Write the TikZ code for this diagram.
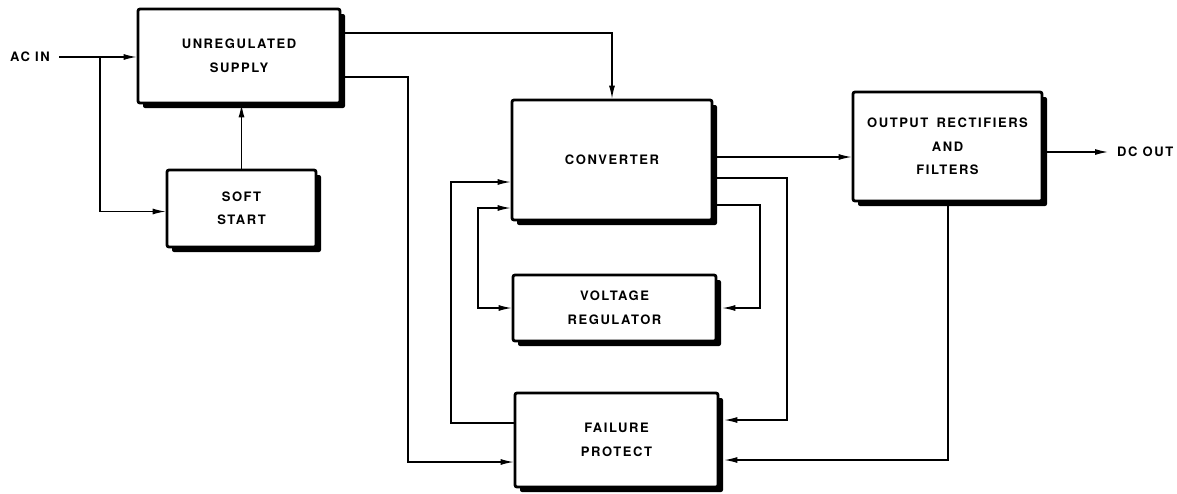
\documentclass[tikz,border=0pt]{standalone}
\usepackage{fontspec}
\newfontfamily\lblfont{TeX Gyre Heros}[LetterSpace=12]
\usetikzlibrary{arrows.meta,shadows,calc}
\begin{document}
\begin{tikzpicture}[x=1pt,y=-1pt,
  blk/.style={draw, line width=2.8pt, rounded corners=2pt, fill=white, align=center, inner sep=0pt,
    font=\lblfont\bfseries\fontsize{13}{23.5}\selectfont,
    drop shadow={shadow xshift=5pt, shadow yshift=-5pt, opacity=1, fill=black}},
  lbl/.style={font=\lblfont\bfseries\fontsize{13}{15}\selectfont, inner sep=0pt},
  wire/.style={line width=1.2pt},
  tip/.tip={Latex[length=13pt,width=6pt]},
  arr/.style={wire, -tip},
  arrs/.style={wire, tip-tip}]
\useasboundingbox (0,0) rectangle (1177,493);

\node[blk, minimum width=202pt, minimum height=94pt] (us) at (239,56) {UNREGULATED\\SUPPLY};
\node[blk, minimum width=149pt, minimum height=77pt] (ss) at (241.5,208.5) {SOFT\\START};
\node[blk, minimum width=200pt, minimum height=120pt] (conv) at (612,160) {CONVERTER};
\node[blk, minimum width=203pt, minimum height=66pt] (vr) at (614.5,308) {VOLTAGE\\REGULATOR};
\node[blk, minimum width=203pt, minimum height=94pt] (fp) at (616.5,440) {FAILURE\\PROTECT};
\node[blk, minimum width=189pt, minimum height=109pt] (or) at (947.5,146.5) {OUTPUT\hspace{3pt} RECTIFIERS\\AND\\FILTERS};

\node[lbl, anchor=east] (acin) at (50,57) {AC IN};
\node[lbl, anchor=west] (dcout) at (1117,152) {DC OUT};

\coordinate (br) at (100,57);
\coordinate (j1) at (408,462);
\coordinate (c7) at (787,420);
\coordinate (c8) at (760,308);
\coordinate (c9) at (478,308);
\coordinate (c10) at (451,182);
\coordinate (c11) at (948,460);

\draw[arr] ($(acin.east)+(9,0)$) -- (acin.east -| us.west);
\draw[arr] (br) |- ($(ss.west)+(0,3)$);
\draw[arr] (ss.north) -- (ss.north |- us.south);
\draw[arr] (us.east |- 0,33) -| (conv.north);
\draw[arr] (us.east |- 0,77) -| (j1) -- (j1 -| fp.west);
\draw[arr] (conv.east |- 0,157) -- (or.west |- 0,157);
\draw[arr] (or.east |- dcout.west) -- ($(dcout.west)+(-9,0)$);
\draw[arr] (conv.east |- 0,178) -| (c7) -- ($(c7 -| fp.east)+(5,0)$);
\draw[arr] (conv.east |- 0,205) -| (c8) -- ($(c8 -| vr.east)+(5,0)$);
\draw[arrs] (conv.west |- 0,208) -| (c9) -- (c9 -| vr.west);
\draw[arr] (fp.west |- 0,423) -| (c10) -- (c10 -| conv.west);
\draw[arr] (or.south -| c11) -- (c11) -- ($(c11 -| fp.east)+(5,0)$);
\end{tikzpicture}
\end{document}
